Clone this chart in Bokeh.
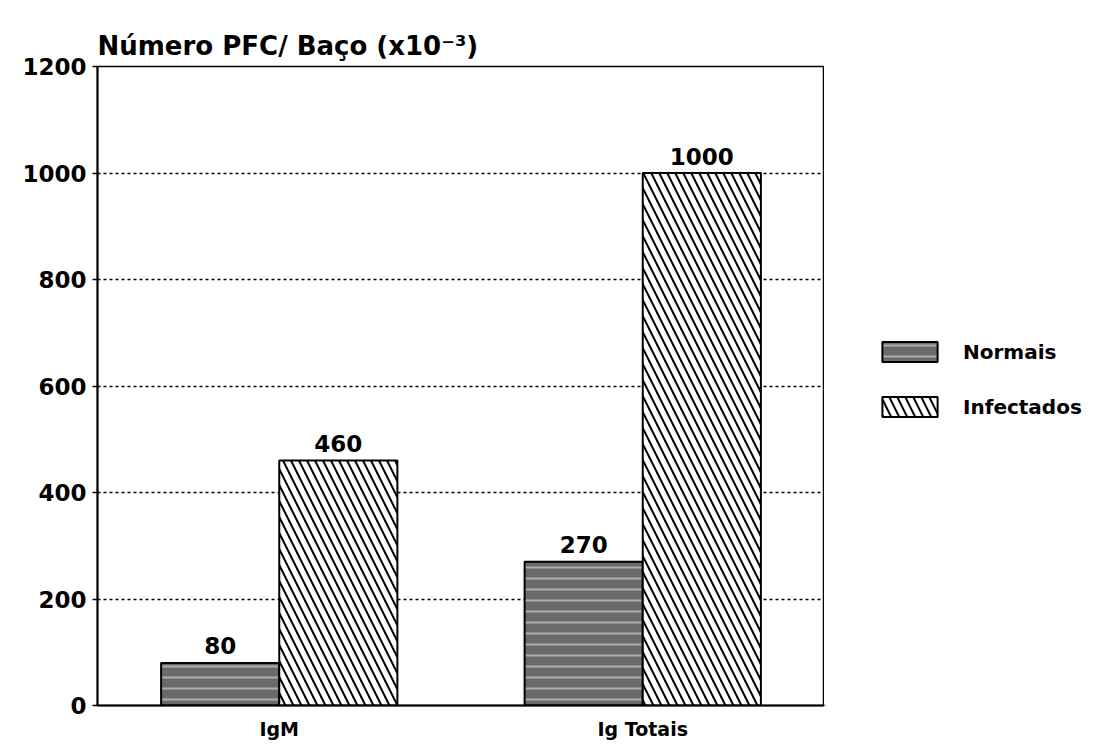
from bokeh.plotting import figure
from bokeh.layouts import row
from bokeh.models import ColumnDataSource, FactorRange, Range1d, Legend, LegendItem, FixedTicker
from bokeh.transform import dodge
from bokeh.core.properties import value
from bokeh.embed import file_html
from bokeh.resources import INLINE

categories = ["IgM", "Ig Totais"]
normais = [80, 270]
infectados = [460, 1000]
series_names = ["Normais", "Infectados"]
y_ticks = [0, 200, 400, 600, 800, 1000, 1200]
grid_ticks = [200, 400, 600, 800, 1000]
title_text = "Número PFC/ Baço (x10⁻³)"

src = ColumnDataSource(dict(
    cat=categories,
    normais=normais,
    infectados=infectados,
    normais_txt=[str(v) for v in normais],
    infectados_txt=[str(v) for v in infectados],
))

FONT = "DejaVu Sans"
BW = 0.325
H = 742

NORMAL_STYLE = dict(fill_color="#6a6a6a", line_color="black", line_width=2,
                    hatch_pattern="-", hatch_color="white", hatch_alpha=0.45,
                    hatch_scale=11, hatch_weight=2)
INFECT_STYLE = dict(fill_color="white", line_color="black", line_width=2,
                    hatch_pattern="\\", hatch_color="black", hatch_scale=16, hatch_weight=2)

p = figure(x_range=FactorRange(*categories), y_range=Range1d(0, 1200),
           width=824, height=H, output_backend="svg", toolbar_location=None,
           min_border_left=97, min_border_right=0, min_border_top=66, min_border_bottom=35)

p.title.text = title_text
p.title.text_font = FONT
p.title.text_font_size = "26px"
p.title.text_font_style = "bold"
p.title.text_color = "black"
p.title.align = "left"
p.title.standoff = 12

p.vbar(x=dodge("cat", -BW / 2, range=p.x_range), top="normais", width=BW, source=src, **NORMAL_STYLE)
p.vbar(x=dodge("cat", BW / 2, range=p.x_range), top="infectados", width=BW, source=src, **INFECT_STYLE)

for col, off in (("normais", -BW / 2), ("infectados", BW / 2)):
    p.text(x=dodge("cat", off, range=p.x_range), y=col, text=col + "_txt", source=src,
           text_align="center", text_baseline="alphabetic", y_offset=-17,
           text_font=value(FONT), text_font_size="23px", text_font_style="bold", text_color="black")

p.xgrid.grid_line_color = None
p.ygrid.ticker = FixedTicker(ticks=grid_ticks)
p.ygrid.grid_line_color = "black"
p.ygrid.grid_line_dash = "3 3"
p.ygrid.grid_line_width = 1.5

p.yaxis.ticker = FixedTicker(ticks=y_ticks)
p.yaxis.axis_line_width = 2
p.yaxis.axis_line_color = "black"
p.yaxis.major_tick_out = 5
p.yaxis.major_tick_in = 0
p.yaxis.major_tick_line_width = 1.5
p.yaxis.minor_tick_line_color = None
p.yaxis.major_label_standoff = 6
p.yaxis.major_label_text_font = FONT
p.yaxis.major_label_text_font_size = "23px"
p.yaxis.major_label_text_font_style = "bold"
p.yaxis.major_label_text_color = "black"

p.xaxis.axis_line_width = 2
p.xaxis.axis_line_color = "black"
p.xaxis.major_tick_line_color = None
p.xaxis.major_label_standoff = 6
p.xaxis.major_label_text_font = FONT
p.xaxis.major_label_text_font_size = "19px"
p.xaxis.major_label_text_font_style = "bold"
p.xaxis.major_label_text_color = "black"

p.outline_line_color = "black"
p.outline_line_width = 1.5
p.background_fill_color = "white"

# legend panel to the right of the chart (keys drawn from off-screen sample glyphs)
lp = figure(width=274, height=H, output_backend="svg", toolbar_location=None,
            x_range=Range1d(0, 1), y_range=Range1d(0, 1),
            x_axis_type=None, y_axis_type=None,
            min_border_left=0, min_border_right=0, min_border_top=0, min_border_bottom=0)
lp.outline_line_color = None
lp.grid.grid_line_color = None
key_src = ColumnDataSource(dict(x=[-10], top=[-10]))
g1 = lp.vbar(x="x", top="top", width=0.1, source=key_src, **NORMAL_STYLE)
g2 = lp.vbar(x="x", top="top", width=0.1, source=key_src, **INFECT_STYLE)

legend = Legend(items=[LegendItem(label=series_names[0], renderers=[g1]),
                       LegendItem(label=series_names[1], renderers=[g2])],
                location=(51, H - 456), glyph_width=69, glyph_height=25, label_standoff=19,
                spacing=30, padding=0, margin=0,
                border_line_color=None, background_fill_alpha=0,
                label_text_font=FONT, label_text_font_size="20px", label_text_font_style="bold",
                label_text_color="black")
lp.add_layout(legend)

layout = row(p, lp, spacing=0)
open("out.html", "w").write(file_html(layout, INLINE))
